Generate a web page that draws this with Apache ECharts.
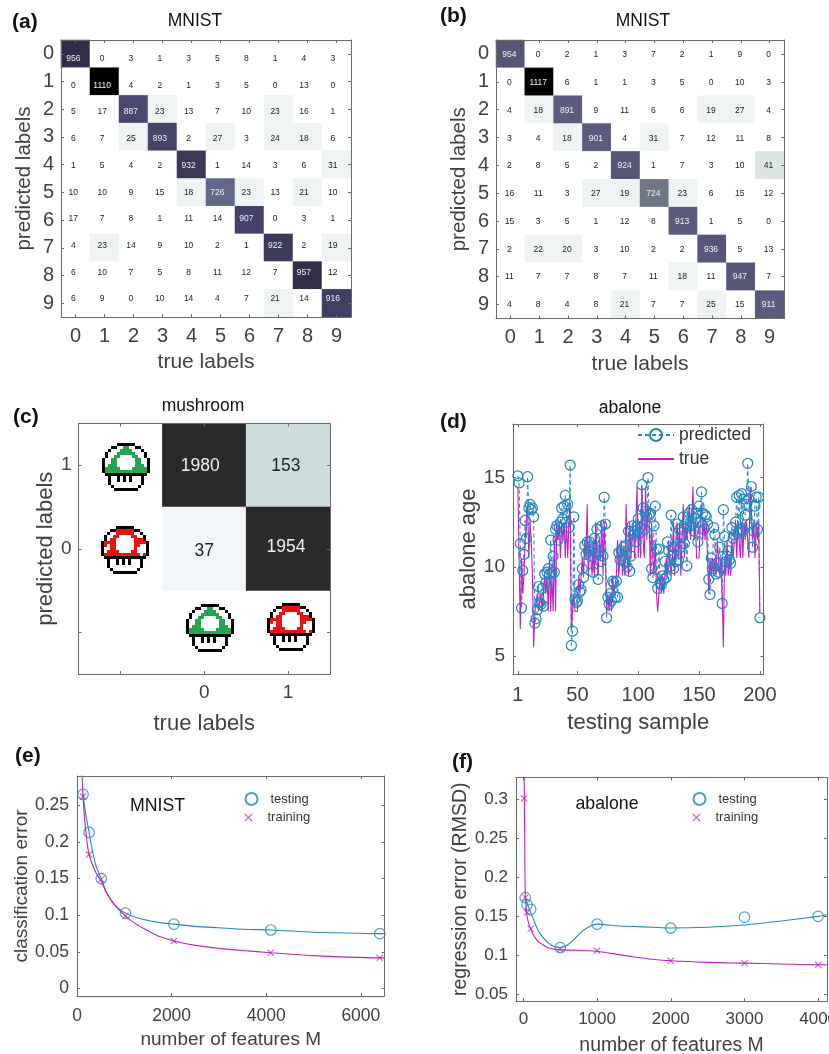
<!DOCTYPE html>
<html>
<head>
<meta charset="utf-8">
<style>html,body{margin:0;padding:0;background:#fff}#c{width:829px;height:1054px;filter:blur(0.35px)}</style>
<script src="https://cdn.jsdelivr.net/npm/echarts@6/dist/echarts.min.js"></script>
</head>
<body>
<div id="c"></div>
<script>
const digits = ['0','1','2','3','4','5','6','7','8','9'];
const mnistA = [
 [956,0,3,1,3,5,8,1,4,3],
 [0,1110,4,2,1,3,5,0,13,0],
 [5,17,887,23,13,7,10,23,16,1],
 [6,7,25,893,2,27,3,24,18,6],
 [1,5,4,2,932,1,14,3,6,31],
 [10,10,9,15,18,726,23,13,21,10],
 [17,7,8,1,11,14,907,0,3,1],
 [4,23,14,9,10,2,1,922,2,19],
 [6,10,7,5,8,11,12,7,957,12],
 [6,9,0,10,14,4,7,21,14,916]];
const mnistB = [
 [954,0,2,1,3,7,2,1,9,0],
 [0,1117,6,1,1,3,5,0,10,3],
 [4,18,891,9,11,6,6,19,27,4],
 [3,4,18,901,4,31,7,12,11,8],
 [2,8,5,2,924,1,7,3,10,41],
 [16,11,3,27,19,724,23,6,15,12],
 [15,3,5,1,12,8,913,1,5,0],
 [2,22,20,3,10,2,2,936,5,13],
 [11,7,7,8,7,11,18,11,947,7],
 [4,8,4,8,21,7,7,25,15,911]];
const mushroomCats = ['','0','1'];
const mushroomCells = [[1,2,1980],[2,2,153],[1,1,37],[2,1,1954]];

const abaloneIdx = Array.from({length:200},(_,i)=>i+1);
const abalonePred = [
 15.1,14.7,11.3,7.7,9.8,10.7,12.6,11.6,15.05,13.3,13.5,13.2,13.3,12.8,6.85,7.1,7.6,8.9,8.0,7.9,
 8.8,7.8,9.6,9.1,9.7,9.9,9.6,11.5,9.7,10.6,9.7,12.1,12.3,11.5,12.2,12.5,13.3,12.7,13.4,14.0,
 12.5,13.5,12.2,15.7,5.6,6.4,12.8,8.2,8.0,8.1,9.0,8.6,8.7,9.9,9.4,11.2,10.7,11.4,10.9,11.4,
 10.6,11.0,9.7,11.6,10.8,12.1,9.3,10.9,10.3,12.3,10.6,13.9,12.4,7.15,8.3,7.9,8.5,8.1,9.2,9.1,
 8.3,9.2,8.3,10.8,10.4,10.9,10.6,11.1,10.3,11.2,10.0,12.0,9.75,10.6,12.3,11.8,12.0,11.4,12.3,12.7,
 11.9,12.2,14.6,13.3,12.1,13.1,12.8,15.0,12.9,13.0,9.9,9.4,12.3,13.4,11.0,8.8,11.0,9.1,9.0,9.5,
 9.3,10.3,9.4,11.4,10.9,10.0,12.9,10.6,9.9,11.1,10.3,12.4,10.4,12.1,11.1,11.7,12.8,11.3,12.4,10.05,
 12.6,13.0,12.3,13.2,12.4,12.0,12.7,13.0,11.4,13.4,12.5,14.2,13.0,12.1,12.9,12.8,12.4,9.3,8.45,10.5,
 9.9,12.2,11.8,9.6,10.2,9.7,11.1,10.0,7.95,13.2,11.7,10.3,10.6,10.9,10.4,10.2,12.2,11.6,11.8,12.5,
 13.9,11.9,14.0,12.1,14.1,12.0,13.8,12.9,13.5,15.8,13.8,12.4,14.5,11.1,12.0,13.4,13.9,12.1,13.9,7.15];
const abaloneTrue = [
 14.5,14.5,6.5,10.5,8.5,9.5,11.5,12.5,13.5,10.5,12.5,11.5,9.5,5.5,7.5,7.5,8.5,7.5,7.5,8.5,
 7.5,8.5,9.5,8.5,9.5,7.5,10.5,7.5,9.5,7.5,11.5,7.5,12.5,11.5,12.5,10.5,12.5,11.5,12.5,10.5,
 12.5,10.5,12.5,13.5,6.5,7.5,8.5,7.5,7.5,7.5,9.5,8.5,9.5,10.5,9.5,11.5,10.5,13.5,9.5,11.5,
 10.5,9.5,11.5,9.5,12.5,10.5,9.5,11.5,10.5,12.5,9.5,12.5,10.5,7.5,8.5,7.5,8.5,7.5,9.5,8.5,
 8.5,9.5,11.5,9.5,10.5,11.5,9.5,10.5,9.5,13.5,10.5,9.5,12.5,10.5,11.5,12.5,10.5,12.5,14.5,10.5,
 12.5,10.5,14.5,11.5,10.5,14.5,11.5,13.5,12.5,9.5,12.5,10.5,9.5,11.5,8.5,7.5,7.5,9.5,8.5,9.5,
 8.5,9.5,10.5,9.5,11.5,10.5,9.5,10.5,12.5,9.5,11.5,12.5,10.5,12.5,9.5,11.5,13.5,10.5,12.5,11.5,
 12.5,13.5,11.5,12.5,14.5,11.5,12.5,10.5,10.5,10.5,12.5,13.5,11.5,12.5,11.5,12.5,10.5,8.5,10.5,9.5,
 10.5,9.5,10.5,9.5,11.5,10.5,9.5,10.5,8.5,5.5,10.5,9.5,11.5,9.5,10.5,9.5,11.5,10.5,11.5,12.5,
 10.5,12.5,11.5,10.5,12.5,10.5,12.5,11.5,12.5,11.5,10.5,14.5,14.5,11.5,12.5,10.5,12.5,11.5,12.5,7.5];

const eM = [128,256,512,1024,2048,4096,6400];
const eTest = [.265,.213,.15,.103,.088,.08,.075];
const eTrain = [.262,.183,.149,.099,.065,.049,.042];
const eTestFit = [[128,.265],[180,.24],[256,.213],[320,.19],[400,.168],[512,.15],[620,.132],[750,.118],[880,.109],[1024,.103],[1250,.097],[1500,.093],[1750,.09],[2048,.088],[2500,.085],[3000,.083],[3500,.081],[4096,.08],[5000,.077],[5700,.076],[6400,.075],[6500,.075]];
const eTrainFit = [[95,.31],[128,.262],[170,.225],[220,.196],[256,.183],[320,.17],[400,.158],[512,.146],[620,.131],[750,.118],[880,.108],[1024,.099],[1250,.088],[1500,.079],[1750,.071],[2048,.065],[2500,.059],[3000,.055],[3500,.052],[4096,.049],[5000,.045],[5700,.043],[6400,.042],[6500,.042]];

const fMTest = [25,50,100,500,1000,2000,3000,4000];
const fTest = [.174,.165,.159,.11,.14,.135,.149,.15];
const fMTrain = [10,25,50,100,500,1000,2000,3000,4000];
const fTrain = [.301,.174,.155,.134,.108,.106,.093,.09,.088];
const fTestFit = [[25,.174],[50,.167],[100,.155],[150,.143],[200,.132],[275,.122],[350,.115],[425,.111],[500,.11],[575,.112],[650,.117],[725,.124],[800,.131],[900,.137],[1000,.14],[1250,.138],[1500,.137],[1750,.136],[2000,.135],[2500,.136],[3000,.139],[3500,.144],[4000,.15],[4120,.152]];
const fTrainFit = [[10,.34],[18,.25],[25,.18],[35,.165],[50,.15],[75,.14],[100,.134],[150,.124],[200,.118],[275,.113],[350,.109],[425,.108],[500,.107],[750,.1065],[1000,.105],[1300,.101],[1500,.098],[1750,.095],[2000,.093],[2500,.091],[3000,.09],[3500,.089],[4000,.088],[4120,.088]];

const stopsA = [[0,'#ffffff'],[18,'#eef3f3'],[700,'#62678a'],[880,'#4a4870'],[893,'#47456b'],[907,'#43416a'],[916,'#403e62'],[922,'#3d3b5c'],[932,'#3a3856'],[956,'#302e4b'],[1100,'#000000']];
const stopsB = [[0,'#ffffff'],[18,'#eef3f3'],[41,'#dbe6e4'],[700,'#6f7787'],[890,'#5b5b80'],[920,'#56567a'],[1100,'#000000']];
const stopsC = [[0,'#ffffff'],[30,'#f2f6f8'],[150,'#cddddd'],[1900,'#2a2a2a']];
const pick = (v,st)=>{let c=st[0][1];for(const s of st) if(v>=s[0]) c=s[1];return c;};

const FONT='"Liberation Sans", Arial, sans-serif';
const BLUE='#1f86c2', MAG='#c41ec4', AXC='#6a6a6a', TXT='#404040';

const opt = {animation:false,backgroundColor:'#fff',textStyle:{fontFamily:FONT},
 grid:[],xAxis:[],yAxis:[],series:[],title:[],legend:[],graphic:[]};

function label(text,x,y,size,bold,color){
 opt.title.push({text,left:x,top:y,padding:0,textAlign:bold?'left':'center',textVerticalAlign:'middle',
  textStyle:{fontFamily:FONT,fontSize:size,fontWeight:bold?'bold':'normal',color:color||'#111'}});
}
function axisBase(a,side,primary){
 const ax={gridIndex:opt.grid.length-1,position:side,z:5,silent:true,
  axisLine:{show:true,onZero:false,lineStyle:{color:AXC,width:1}},
  axisTick:{show:true,inside:true,length:3,lineStyle:{color:AXC,width:1}},
  splitLine:{show:false},splitArea:{show:false},
  axisLabel:{show:primary,color:TXT,fontFamily:FONT,fontSize:a.fs,margin:a.margin,hideOverlap:false,formatter:v=>String(v)}};
 if(a.cats){ax.type='category';ax.data=a.cats;ax.axisTick.alignWithLabel=true;ax.axisLabel.interval=0;ax.axisTick.interval=0;if(a.inverse)ax.inverse=true;}
 else{ax.type='value';ax.min=a.min;ax.max=a.max;ax.axisTick.customValues=a.ticks;ax.axisLabel.customValues=a.ticks;}
 if(primary&&a.name){ax.name=a.name;ax.nameLocation='middle';ax.nameGap=a.gap;ax.nameTextStyle={fontFamily:FONT,fontSize:a.nfs,color:TXT};}
 return ax;
}
function panel(box,x,y){
 opt.grid.push({left:box[0],top:box[1],width:box[2]-box[0],height:box[3]-box[1],show:false,containLabel:false,outerBoundsMode:'none'});
 const xi=opt.xAxis.length, yi=opt.yAxis.length;
 opt.xAxis.push(axisBase(x,'bottom',true),axisBase(x,'top',false));
 opt.yAxis.push(axisBase(y,'left',true),axisBase(y,'right',false));
 return {xAxisIndex:xi,yAxisIndex:yi};
}
function heat(idx,cells,stops,fs,shift){
 opt.series.push(Object.assign({type:'heatmap',silent:true,z:2,
  data:cells.map(([c,r,v],k)=>({value:[c,r,v],itemStyle:{color:pick(v,stops)},
   label:{color:(v>=700)?'#f0f0f0':'#222',offset:shift(c,r,k)}})),
  label:{show:true,fontFamily:FONT,fontSize:fs,formatter:p=>String(p.value[2])},
  emphasis:{disabled:true}},idx));
}
const toCells = m=>m.flatMap((row,r)=>row.map((v,c)=>[c,r,v]));

// (a)
label('(a)',12,22,21,true); label('MNIST',195,21,17.5);
heat(panel([61,40,351,317],
 {cats:digits,fs:20,margin:9,name:'true labels',gap:35,nfs:21},
 {cats:digits,inverse:true,fs:20,margin:7,name:'predicted labels',gap:26,nfs:20.6}),
 toCells(mnistA),stopsA,8.5,(c,r)=>[-2.2-0.17*c,4.85-r]);
// (b)
label('(b)',440,16,21,true); label('MNIST',643,21,17.5);
heat(panel([496,40,784,318.5],
 {cats:digits,fs:20,margin:9,name:'true labels',gap:35,nfs:21},
 {cats:digits,inverse:true,fs:20,margin:7,name:'predicted labels',gap:26,nfs:20.6}),
 toCells(mnistB),stopsB,8.5,(c,r)=>[-1,1-0.1*r]);
// (c)
const cShift=[[-4,1],[-2.3,1],[0,2.7],[-2,-1.5]];
label('(c)',13,417,21,true); label('mushroom',203,406,17.5);
heat(panel([78.5,423.5,330,674],
 {cats:mushroomCats,fs:19,margin:9,name:'true labels',gap:39,nfs:22},
 {cats:mushroomCats,fs:19,margin:7,name:'predicted labels',gap:19,nfs:22}),
 mushroomCells,stopsC,17.5,(c,r,k)=>cShift[k]);
// (d)
label('(d)',440,422,21,true); label('abalone',630,408,17.5);
const dIdx=panel([513,424,763.5,674],
 {min:-3,max:203,ticks:[1,50,100,150,200],fs:20,margin:11,name:'testing sample',gap:38,nfs:22},
 {min:4,max:18,ticks:[5,10,15],fs:19,margin:8,name:'abalone age',gap:26,nfs:22});
opt.series.push(Object.assign({type:'line',name:'predicted',silent:true,data:abaloneIdx.map((x,i)=>[x,abalonePred[i]]),
 symbol:'circle',symbolSize:10,showSymbol:true,showAllSymbol:true,lineStyle:{color:BLUE,width:1,type:[4,3]},
 itemStyle:{color:'rgba(0,0,0,0)',borderColor:BLUE,borderWidth:1.2},clip:true},dIdx));
opt.series.push(Object.assign({type:'line',name:'true',silent:true,data:abaloneIdx.map((x,i)=>[x,abaloneTrue[i]]),
 symbol:'none',lineStyle:{color:MAG,width:1.1},itemStyle:{color:'rgba(0,0,0,0)',borderWidth:0},clip:true},dIdx));
opt.legend.push({data:['predicted','true'],orient:'vertical',left:637,top:426,itemWidth:36,itemHeight:15,itemGap:6,
 selectedMode:false,padding:0,textStyle:{fontFamily:FONT,fontSize:17.5,color:'#333'}});

const X_PATH='path://M1,0 L5,4 L9,0 L10,1 L6,5 L10,9 L9,10 L5,6 L1,10 L0,9 L4,5 L0,1 Z';
function curves(idx,mt,t,mr,r,tFit,rFit){
 opt.series.push(Object.assign({type:'line',name:'testing fit',silent:true,data:tFit,smooth:0.3,symbol:'none',lineStyle:{color:BLUE,width:1.1},clip:true},idx));
 opt.series.push(Object.assign({type:'line',name:'training fit',silent:true,data:rFit,smooth:0.3,symbol:'none',lineStyle:{color:MAG,width:1.1},clip:true},idx));
 opt.series.push(Object.assign({type:'scatter',name:'testing',silent:true,data:mt.map((m,i)=>[m,t[i]]),symbol:'circle',symbolSize:10.5,clip:false,
  itemStyle:{color:'rgba(0,0,0,0)',borderColor:BLUE,borderWidth:1.2}},idx));
 opt.series.push(Object.assign({type:'scatter',name:'training',silent:true,data:mr.map((m,i)=>[m,r[i]]),symbol:X_PATH,symbolSize:7,clip:false,
  itemStyle:{color:MAG}},idx));
}
function miniLegend(x,y1,y2){
 const ts={fontFamily:FONT,fontSize:13,color:'#333'};
 opt.legend.push({data:['testing'],left:x,top:y1,itemWidth:28,itemHeight:12,selectedMode:false,padding:0,itemGap:0,textStyle:ts});
 opt.legend.push({data:['training'],left:x,top:y2,itemWidth:28,itemHeight:8,selectedMode:false,padding:0,itemGap:0,textStyle:ts});
}
// (e)
label('(e)',15,756,21,true); label('MNIST',157.5,806,17.7);
curves(panel([77,776,384.5,996],
 {min:0,max:6500,ticks:[0,2000,4000,6000],fs:17.5,margin:11,name:'number of features M',gap:34,nfs:19},
 {min:-0.01,max:0.29,ticks:[0,.05,.1,.15,.2,.25],fs:17.5,margin:8,name:'classification error',gap:42,nfs:19}),
 eM,eTest,eM,eTrain,eTestFit,eTrainFit);
miniLegend(244.5,792,811);
// (f)
label('(f)',452,762,21,true); label('abalone',607,804,17.7);
curves(panel([516,777.5,827,1001],
 {min:-100,max:4120,ticks:[0,1000,2000,3000,4000],fs:17,margin:10,name:'number of features M',gap:35,nfs:19.4},
 {min:0.0415,max:0.328,ticks:[.05,.1,.15,.2,.25,.3],fs:17,margin:8,name:'regression error (RMSD)',gap:43,nfs:19.5}),
 fMTest,fTest,fMTrain,fTrain,fTestFit,fTrainFit);
miniLegend(692.5,792,811);

// mushroom sprites
const stem=[
".KKKKKKKKKKKKKK.",
"..KWWKWKWKWWWK..",
"..KWWKWKWKWWWK..",
"..KWWWWWWWWWWK..",
"...KWWWWWWWWK...",
"....KKKKKKKK...."];
const greenSprite=[
".....KKKKKK.....",
"...KKWWGGWWKK...",
"..KWWWGGGGWWWK..",
".KWWWGGGGGGWWWK.",
".KWWGGWWWWGGWWK.",
"KWWGGWWWWWWGGWWK",
"KWWGGWWWWWWGGWWK",
"KWGGGWWWWWWGGGWK",
"KGGGGGWWWWGGGGGK",
"KGGGGGGGGGGGGGGK"].concat(stem);
const redSprite=[
".....KKKKKK.....",
"...KKRRRRRRKK...",
"..KWWRRRRRRWWK..",
".KWWRRWWWWRRWWK.",
".KWRRWWWWWWRRRK.",
"KRRRRWWWWWWRRRRK",
"KRWRRWWWWWWRRWWK",
"KWWRRWWWWWWRWWWK",
"KWRRRRWWWWRRWWWK",
"KRRRRRRRRRRRRWRK"].concat(stem);
const palette={K:'#000',W:'#fff',G:'#27a54e',R:'#ee1111'};
function spriteCanvas(sp){
 const s=4,c=document.createElement('canvas');c.width=sp[0].length*s;c.height=sp.length*s;
 const g=c.getContext('2d');
 sp.forEach((row,y)=>[...row].forEach((ch,x)=>{if(palette[ch]){g.fillStyle=palette[ch];g.fillRect(x*s,y*s,s,s);}}));
 return c;
}
const gC=spriteCanvas(greenSprite), rC=spriteCanvas(redSprite);
[[gC,102,443],[rC,101,526],[gC,186,604],[rC,267,603]].forEach(([im,x,y])=>{
 opt.graphic.push({type:'image',x,y,z:10,silent:true,style:{image:im,width:48,height:48}});
});

const chart=echarts.init(document.getElementById('c'),null,{renderer:'canvas',width:829,height:1054});
chart.setOption(opt);
</script>
</body>
</html>
